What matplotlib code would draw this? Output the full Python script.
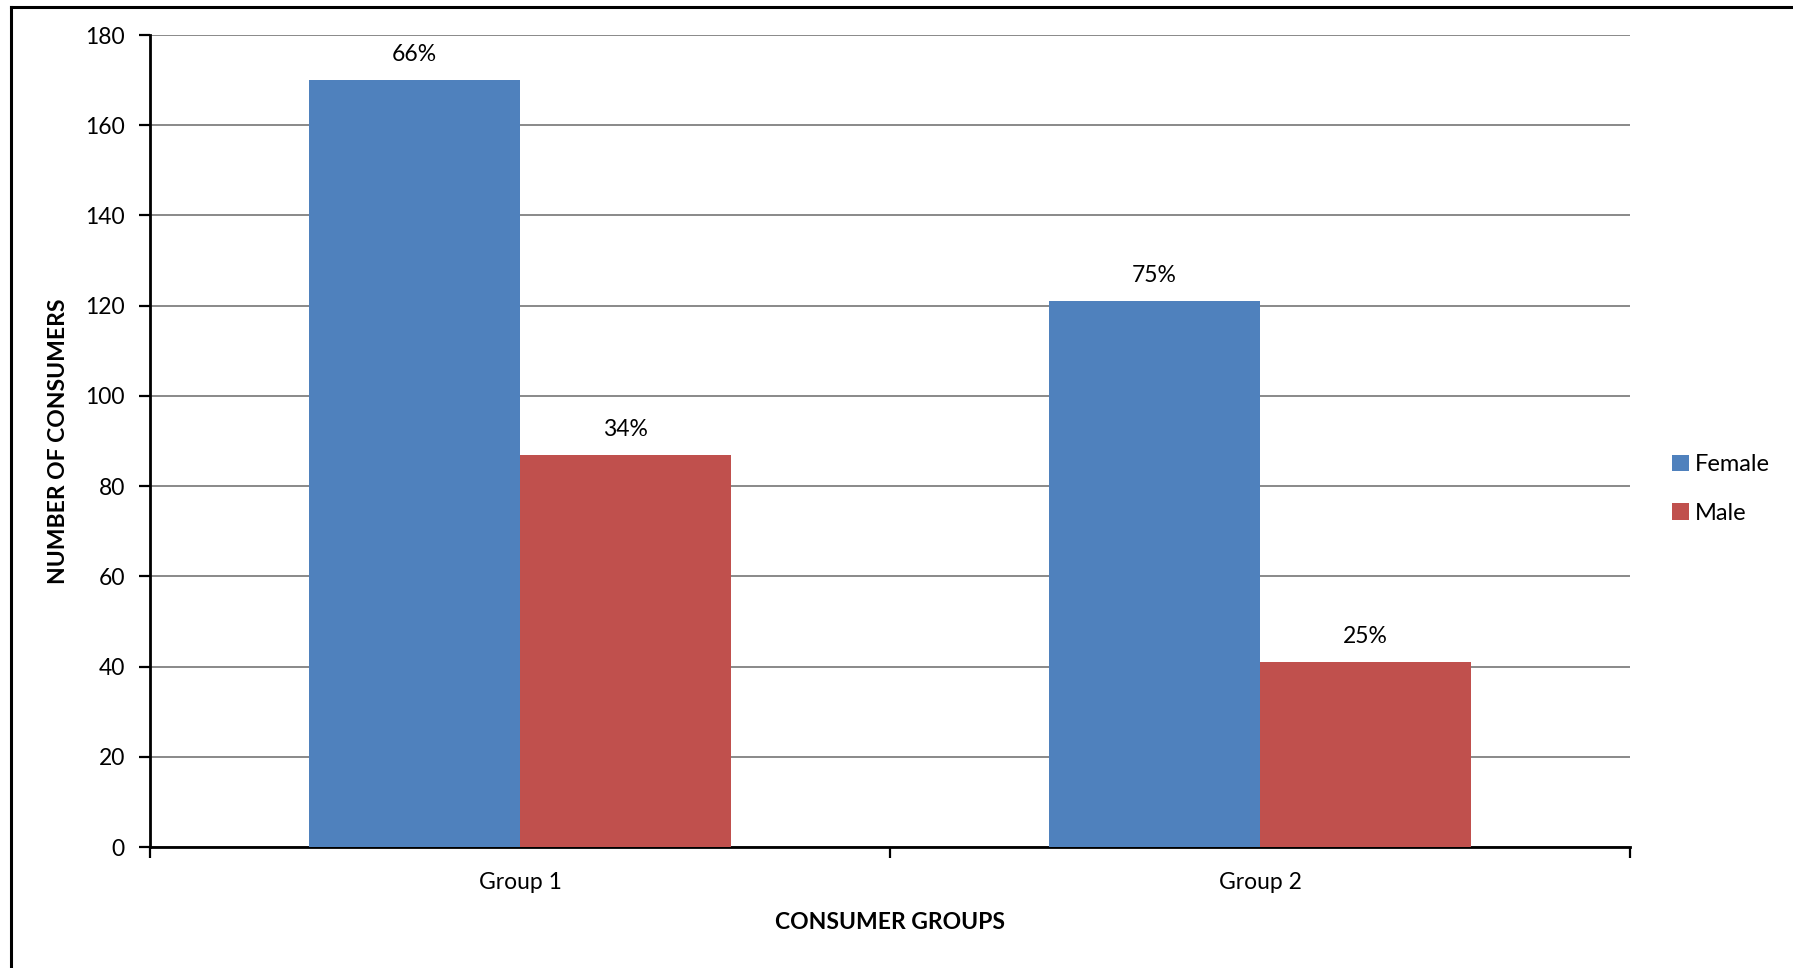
import matplotlib
matplotlib.use("Agg")
import matplotlib.pyplot as plt
from matplotlib.lines import Line2D
import numpy as np

plt.rcParams['font.family'] = ['Lato', 'DejaVu Sans']

groups = ["Group 1", "Group 2"]
series_names = ["Female", "Male"]
female = [170, 121]
male = [87, 41]
female_pct = ["66%", "75%"]
male_pct = ["34%", "25%"]
colors = ["#4F81BD", "#C0504D"]

W, H, DPI = 1793, 968, 100
FS = 16.5
fig = plt.figure(figsize=(W / DPI, H / DPI), dpi=DPI)
ax = fig.add_axes([150 / W, 1 - 847 / H, 1480 / W, 812 / H])

x = np.arange(len(groups))
bw = 1 / 3.5
b1 = ax.bar(x - bw / 2, female, bw, color=colors[0], label=series_names[0], zorder=3)
b2 = ax.bar(x + bw / 2, male, bw, color=colors[1], label=series_names[1], zorder=3)

for bars, labels in ((b1, female_pct), (b2, male_pct)):
    for rect, lab in zip(bars, labels):
        ax.annotate(lab, (rect.get_x() + rect.get_width() / 2, rect.get_height()),
                    xytext=(0, 15), textcoords="offset pixels",
                    ha="center", va="bottom", fontsize=FS, color="black")

ax.set_xlim(-0.5, 1.5)
ax.set_ylim(0, 180)
ax.set_yticks(np.arange(0, 181, 20))
ax.yaxis.grid(True, color="#898989", linewidth=1.4, zorder=0)
ax.set_axisbelow(True)

ax.set_xticks([-0.5, 0.5, 1.5])
ax.set_xticklabels([])
ax.set_xticks(x, minor=True)
ax.set_xticklabels(groups, minor=True)
ax.tick_params(axis="x", which="minor", length=0, pad=18, labelsize=FS)
ax.tick_params(axis="x", which="major", length=8, width=1.6, direction="out")
ax.tick_params(axis="y", length=8, width=1.6, direction="out", pad=10, labelsize=FS)

for s in ("top", "right"):
    ax.spines[s].set_visible(False)
for s in ("left", "bottom"):
    ax.spines[s].set_linewidth(2)
    ax.spines[s].set_color("black")

ax.set_xlabel("CONSUMER GROUPS", fontsize=FS, fontweight="bold", labelpad=14)
ax.set_ylabel("NUMBER OF CONSUMERS", fontsize=FS, fontweight="bold", labelpad=12)

leg = fig.legend(handles=[b1, b2], loc="center left",
                 bbox_to_anchor=(1663 / W, 1 - 489 / H), frameon=False,
                 fontsize=FS + 0.5, handlelength=0.7, handleheight=0.7,
                 handletextpad=0.25, labelspacing=1.15, borderaxespad=0)

# chart frame
fig.add_artist(Line2D([11 / W, 1], [1 - 7 / H, 1 - 7 / H], color="black", linewidth=2.2,
                      transform=fig.transFigure))
fig.add_artist(Line2D([11 / W, 11 / W], [0, 1 - 7 / H], color="black", linewidth=2.2,
                      transform=fig.transFigure))

fig.savefig("out.png", dpi=DPI, facecolor="white")
